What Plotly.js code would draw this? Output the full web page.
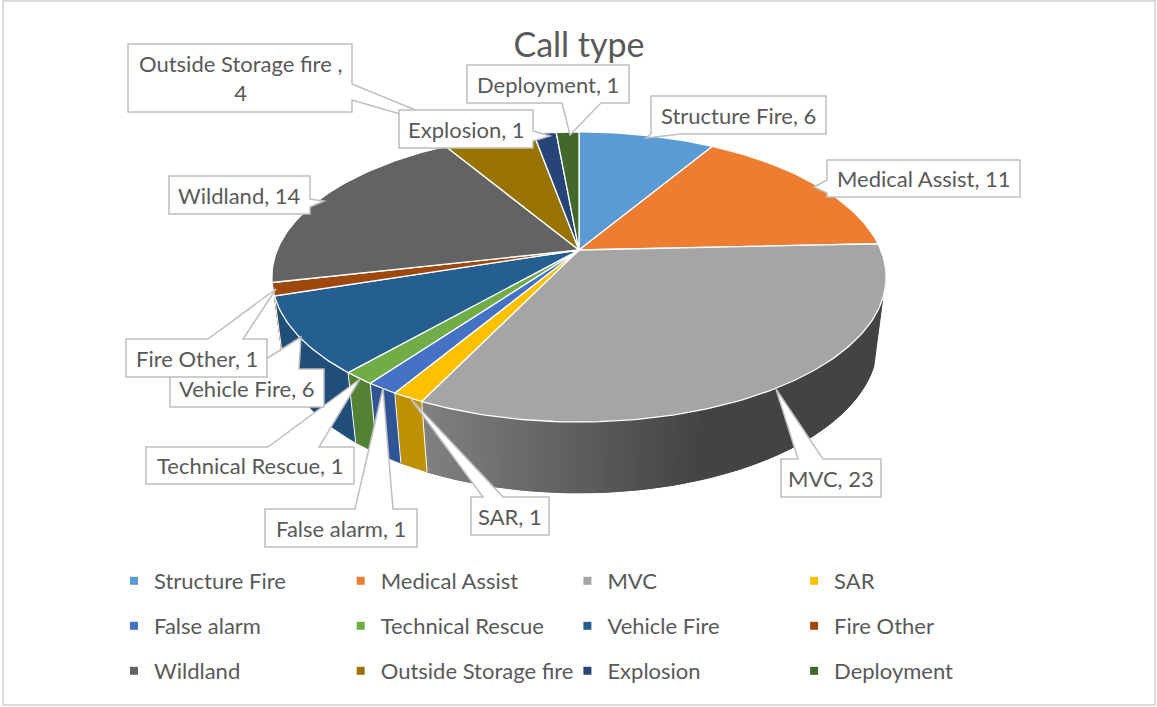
<!DOCTYPE html>
<html><head><meta charset="utf-8">
<script src="https://cdn.plot.ly/plotly-3.0.1.min.js"></script>
<style>html,body{margin:0;padding:0;background:#fff;overflow:hidden}</style>
</head><body><div id="chart" style="width:1157px;height:707px"></div>
<script>
const categories = ["Structure Fire","Medical Assist","MVC","SAR","False alarm","Technical Rescue","Vehicle Fire","Fire Other","Wildland","Outside Storage fire ","Explosion","Deployment"];
const callValues = [6,11,23,1,1,1,6,1,14,4,1,1];
const topColors = ["#5b9bd5","#ed7d31","#a5a5a5","#ffc000","#4472c4","#70ad47","#255e91","#9e480e","#636363","#997300","#264478","#43682b"];
const wallColors = ["#4a7fb0","#c4621f",null,"#bf9000","#2f5597","#548235","#1f4e79","#843c0c","#505050","#7f6000","#1f3864","#375623"];

const FONT = "Lato, 'Open Sans', sans-serif";
const TXT = "#595959";
const W = 1157, H = 707;
const rad = d => d*Math.PI/180;
// perspective disc: upper and lower faces of the pie
const topFace = {cx:579, cy:250, a:301.8, b:140, p:0.186};
const botFace = {cx:579, cy:316, a:293.5, b:145, p:0.18};
const VIS_FROM = 109, VIS_TO = 252;
function pt(f,t){const u=Math.sin(rad(t)),v=Math.cos(rad(t)),w=1+f.p*v;return [f.cx+f.a*u/w,f.cy-f.b*v/w];}
function arc(f,t1,t2){const n=Math.max(2,Math.ceil(Math.abs(t2-t1)));const o=[];for(let i=0;i<=n;i++)o.push(pt(f,t1+(t2-t1)*i/n));return o;}
function poly(points,color,line,name,lw){
  const c=points.concat([points[0]]);
  return {type:"scatter",mode:"lines",x:c.map(q=>q[0]),y:c.map(q=>q[1]),fill:"toself",fillcolor:color,
    line:{color:line||color,width:lw||(line?1.3:0.8)},showlegend:false,hoverinfo:"skip",name:name||""};
}
const total = callValues.reduce((s,v)=>s+v,0);
let cum=0;
const spans = callValues.map(v=>{const s=cum/total*360;cum+=v;return [s,cum/total*360];});

const traces=[];
// side wall
spans.forEach((sp,i)=>{
  const s=Math.max(sp[0],VIS_FROM),e=Math.min(sp[1],VIS_TO);
  if(e<=s) return;
  if(wallColors[i]){
    traces.push(poly(arc(topFace,s,e).concat(arc(botFace,e,s)),wallColors[i],null,categories[i]));
  } else {
    // base piece under the gradient strips so no seams show through
    traces.push(poly(arc(topFace,s,e).concat(arc(botFace,e,s)),"#555555",null,categories[i]));
    const step=1.0;
    for(let t=e-step;t>s-step;t-=step){
      const t1=Math.max(s,t),t2=t+step;
      const xm=pt(topFace,(t1+t2)/2)[0];
      const k=Math.min(1,Math.max(0,(xm-430)/(710-430)));
      const g=Math.round(0x80+(0x43-0x80)*k);
      // each strip extends under its already-drawn neighbour side
      const col=`rgb(${g},${g},${g})`;
      traces.push(poly(arc(topFace,t1,Math.min(e,t2+step)).concat(arc(botFace,Math.min(e,t2+step),t1)),col,col,categories[i],0.4));
    }
  }
});
// white separators on the wall
spans.forEach(sp=>{
  if(sp[0]>VIS_FROM && sp[0]<VIS_TO){
    const a=pt(topFace,sp[0]),b=pt(botFace,sp[0]);
    traces.push({type:"scatter",mode:"lines",x:[a[0],b[0]],y:[a[1],b[1]],line:{color:"#ffffff",width:1},showlegend:false,hoverinfo:"skip"});
  }
});
// top face
spans.forEach((sp,i)=>{
  traces.push(poly([[topFace.cx,topFace.cy]].concat(arc(topFace,sp[0],sp[1])),topColors[i],"#ffffff",categories[i]));
});
// legend: three rows of four
categories.forEach((c,i)=>{
  const row=Math.floor(i/4);
  traces.push({type:"scatter",mode:"markers",x:[null],y:[null],name:c.trim(),legend:row?("legend"+(row+1)):"legend",
    marker:{symbol:"square",size:8,color:topColors[i]},hoverinfo:"skip"});
});

// callouts: box [x0,y0,x1,y1], tip, side, pointer base [a,b]
const callouts=[
 {i:0,box:[651,96,826,134],tip:[646,138],side:"bottom",base:[651,681]},
 {i:1,box:[827,160,1020,197],tip:[814,187],side:"left",base:[180,193]},
 {i:2,box:[781,459,881,497],tip:[776,389],side:"top",base:[798,823]},
 {i:3,box:[471,497,549,535],tip:[410,398],side:"top",base:[483,503]},
 {i:4,box:[265,509,417,547],tip:[383,388],side:"top",base:[355,393]},
 {i:5,box:[146,447,354,484],tip:[360,379],side:"top",base:[268,319]},
 {i:6,box:[170,369,324,407],tip:[301,337],side:"top",base:[250,299]},
 {i:7,box:[126,339,267,377],tip:[276,289],side:"top",base:[208,243]},
 {i:8,box:[169,176,310,214],tip:[324,201],side:"right",base:[199,207]},
 {i:9,box:[128,44,352,112],tip:[486,139],side:"right",base:[84,100],two:true},
 {i:10,box:[399,110,533,148],tip:[550,136],side:"right",base:[131,141]},
 {i:11,box:[467,65,629,103],tip:[570,135],side:"bottom",base:[562,601]}
];
function calloutPath(c){
  const [x0,y0,x1,y1]=c.box,[tx,ty]=c.tip,[a,b]=c.base;
  let p=[[x0,y0]];
  if(c.side==="top") p.push([a,y0],[tx,ty],[b,y0]);
  p.push([x1,y0]);
  if(c.side==="right") p.push([x1,a],[tx,ty],[x1,b]);
  p.push([x1,y1]);
  if(c.side==="bottom") p.push([b,y1],[tx,ty],[a,y1]);
  p.push([x0,y1]);
  if(c.side==="left") p.push([x0,b],[tx,ty],[x0,a]);
  return "M"+p.map(q=>q.join(",")).join("L")+"Z";
}
const shapes=callouts.map(c=>({type:"path",xref:"x",yref:"y",layer:"above",path:calloutPath(c),
  fillcolor:"#ffffff",line:{color:"#bfbfbf",width:1.5}}));
// chart frame
shapes.push({type:"rect",xref:"x",yref:"y",x0:3,y0:1,x1:1155,y1:705,layer:"below",fillcolor:"rgba(0,0,0,0)",line:{color:"#d9d9d9",width:2}});

const annotations=callouts.map(c=>({
  xref:"x",yref:"y",x:(c.box[0]+c.box[2])/2,y:(c.box[1]+c.box[3])/2,showarrow:false,align:"center",
  text:c.two?`${categories[c.i]},<br>${callValues[c.i]}`:`${categories[c.i]}, ${callValues[c.i]}`,
  font:{family:FONT,size:22,color:TXT}
}));

function legendRow(yPix){
  return {orientation:"h",x:114/W,xanchor:"left",y:1-yPix/H,yanchor:"middle",bgcolor:"rgba(0,0,0,0)",
    entrywidth:181.7,entrywidthmode:"pixels",itemwidth:30,itemclick:false,itemdoubleclick:false,
    font:{family:FONT,size:22,color:TXT},traceorder:"normal"};
}
const layout={
  width:W,height:H,margin:{l:0,r:0,t:0,b:0},paper_bgcolor:"#ffffff",plot_bgcolor:"#ffffff",
  title:{text:"Call type",x:579/W,xanchor:"center",y:1-45/H,yanchor:"middle",font:{family:FONT,size:34,color:TXT}},
  xaxis:{range:[0,W],visible:false,fixedrange:true},
  yaxis:{range:[H,0],visible:false,fixedrange:true},
  shapes,annotations,
  legend:legendRow(581),legend2:legendRow(626),legend3:legendRow(671),
  showlegend:true,hovermode:false
};
Plotly.newPlot("chart",traces,layout,{displayModeBar:false});
</script></body></html>
